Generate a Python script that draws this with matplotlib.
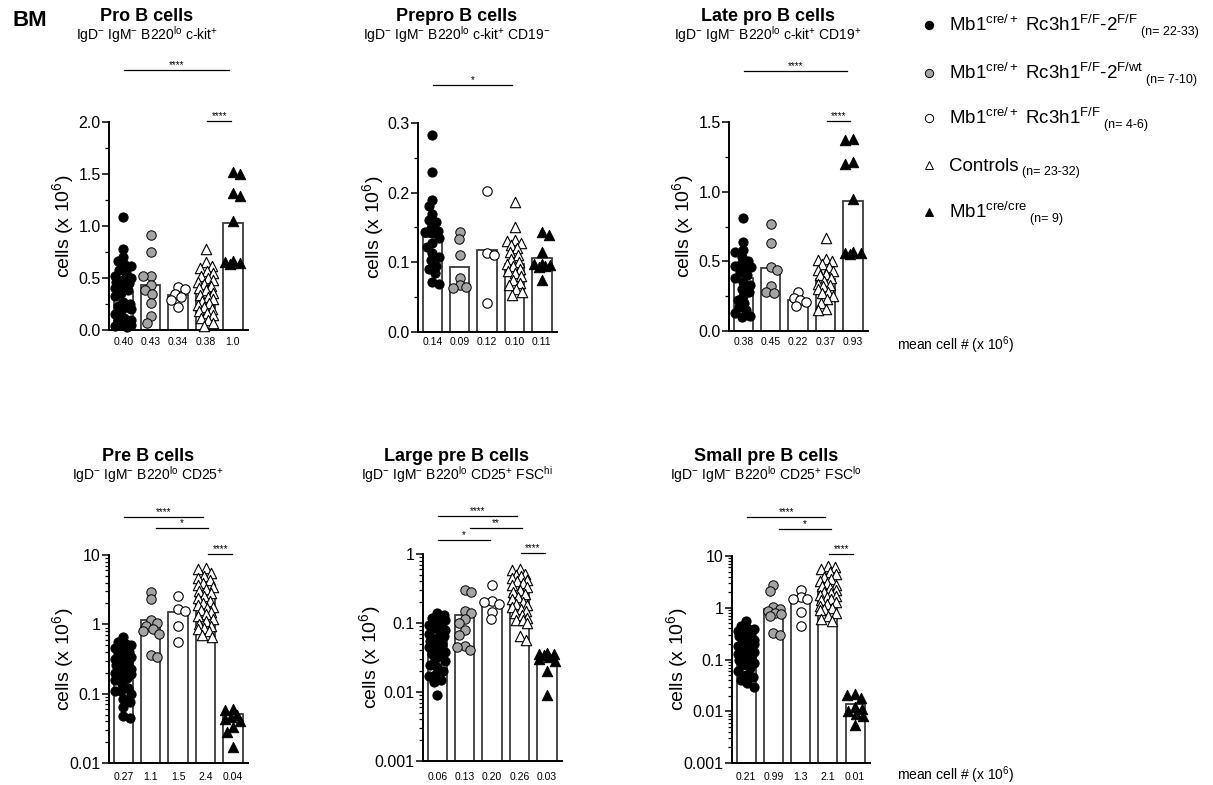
import numpy as np
import matplotlib
matplotlib.use("Agg")
import matplotlib.pyplot as plt
from matplotlib.transforms import blended_transform_factory
from matplotlib.ticker import MultipleLocator, LogLocator, FuncFormatter, NullFormatter, FormatStrFormatter

# ---------------- DATA ----------------
groups = ["Mb1cre/+ Rc3h1F/F-2F/F", "Mb1cre/+ Rc3h1F/F-2F/wt", "Mb1cre/+ Rc3h1F/F", "Controls", "Mb1cre/cre"]

# Pro B cells (x 10^6)
p1_dko = [1.09, 0.78, 0.70, 0.66, 0.63, 0.62, 0.58, 0.55, 0.52, 0.50, 0.48, 0.46, 0.45, 0.42, 0.40, 0.38,
          0.36, 0.33, 0.27, 0.25, 0.23, 0.22, 0.20, 0.18, 0.15, 0.12, 0.10, 0.09, 0.08, 0.06, 0.05, 0.04, 0.03]
p1_het = [0.91, 0.75, 0.52, 0.52, 0.43, 0.38, 0.35, 0.26, 0.13, 0.07]
p1_ff = [0.41, 0.39, 0.35, 0.32, 0.29, 0.22]
p1_ctrl = [0.78, 0.65, 0.62, 0.60, 0.57, 0.55, 0.52, 0.50, 0.48, 0.46, 0.44, 0.42, 0.40, 0.38, 0.36,
           0.34, 0.32, 0.30, 0.28, 0.26, 0.24, 0.22, 0.20, 0.18, 0.16, 0.14, 0.12, 0.10, 0.07, 0.04]
p1_cre = [1.52, 1.50, 1.32, 1.29, 1.05, 0.66, 0.65, 0.64, 0.63]
p1_bar = [0.37, 0.43, 0.34, 0.37, 1.03]
p1_lab = ["0.40", "0.43", "0.34", "0.38", "1.0"]

# Prepro B cells
p2_dko = [0.283, 0.230, 0.190, 0.181, 0.170, 0.161, 0.158, 0.150, 0.145, 0.144, 0.142, 0.135, 0.128,
          0.122, 0.113, 0.108, 0.103, 0.095, 0.090, 0.084, 0.072, 0.069]
p2_het = [0.143, 0.133, 0.110, 0.078, 0.067, 0.064, 0.063]
p2_ff = [0.203, 0.114, 0.110, 0.041]
p2_ctrl = [0.187, 0.151, 0.132, 0.130, 0.128, 0.125, 0.120, 0.115, 0.110, 0.105, 0.100, 0.098, 0.095,
           0.090, 0.088, 0.085, 0.080, 0.075, 0.070, 0.067, 0.062, 0.058, 0.053]
p2_cre = [0.144, 0.139, 0.115, 0.098, 0.097, 0.096, 0.095, 0.094, 0.075]
p2_bar = [0.137, 0.094, 0.118, 0.098, 0.106]
p2_lab = ["0.14", "0.09", "0.12", "0.10", "0.11"]

# Late pro B cells
p3_dko = [0.81, 0.64, 0.58, 0.57, 0.53, 0.50, 0.48, 0.47, 0.46, 0.45, 0.42, 0.40, 0.38, 0.35, 0.33,
          0.30, 0.28, 0.25, 0.22, 0.20, 0.17, 0.15, 0.13, 0.11, 0.10]
p3_het = [0.77, 0.63, 0.46, 0.44, 0.32, 0.28, 0.27]
p3_ff = [0.28, 0.24, 0.22, 0.21, 0.18]
p3_ctrl = [0.67, 0.52, 0.51, 0.50, 0.48, 0.46, 0.44, 0.43, 0.41, 0.40, 0.38, 0.36, 0.34, 0.33, 0.32,
           0.30, 0.28, 0.27, 0.25, 0.23, 0.20, 0.16, 0.15]
p3_cre = [1.38, 1.37, 1.21, 1.20, 0.95, 0.57, 0.56, 0.56, 0.55]
p3_bar = [0.38, 0.455, 0.22, 0.37, 0.93]
p3_lab = ["0.38", "0.45", "0.22", "0.37", "0.93"]

# Pre B cells
p4_dko = [0.65, 0.55, 0.52, 0.50, 0.45, 0.42, 0.40, 0.38, 0.36, 0.34, 0.32, 0.30, 0.28, 0.26, 0.25,
          0.23, 0.22, 0.21, 0.20, 0.19, 0.18, 0.17, 0.16, 0.14, 0.12, 0.11, 0.11, 0.10, 0.085, 0.075,
          0.065, 0.048, 0.045]
p4_het = [2.96, 2.30, 1.15, 1.05, 0.95, 0.85, 0.80, 0.72, 0.36, 0.34]
p4_ff = [2.55, 1.65, 1.55, 0.95, 0.55]
p4_ctrl = [6.4, 6.2, 5.5, 5.0, 4.6, 4.3, 4.0, 3.7, 3.5, 3.2, 3.0, 2.8, 2.6, 2.4, 2.2, 2.0, 1.9, 1.8,
           1.7, 1.6, 1.5, 1.4, 1.3, 1.2, 1.1, 1.0, 0.95, 0.9, 0.85, 0.8, 0.7, 0.65]
p4_cre = [0.060, 0.058, 0.050, 0.046, 0.043, 0.040, 0.033, 0.028, 0.017]
p4_bar = [0.265, 1.13, 1.52, 2.43, 0.041]
p4_lab = ["0.27", "1.1", "1.5", "2.4", "0.04"]

# Large pre B cells
p5_dko = [0.14, 0.13, 0.12, 0.12, 0.11, 0.10, 0.095, 0.09, 0.085, 0.08, 0.075, 0.07, 0.065, 0.06,
          0.055, 0.05, 0.05, 0.045, 0.04, 0.038, 0.035, 0.033, 0.03, 0.028, 0.025, 0.023, 0.02, 0.018,
          0.017, 0.015, 0.014, 0.009]
p5_het = [0.30, 0.28, 0.15, 0.14, 0.115, 0.10, 0.08, 0.068, 0.047, 0.045, 0.040]
p5_ff = [0.35, 0.21, 0.20, 0.19, 0.145, 0.115]
p5_ctrl = [0.60, 0.58, 0.52, 0.50, 0.48, 0.45, 0.42, 0.40, 0.38, 0.35, 0.33, 0.30, 0.28, 0.26, 0.24,
           0.22, 0.20, 0.19, 0.18, 0.17, 0.16, 0.15, 0.14, 0.13, 0.12, 0.11, 0.11, 0.10, 0.065, 0.057]
p5_cre = [0.037, 0.036, 0.035, 0.034, 0.032, 0.030, 0.028, 0.020, 0.009]
p5_bar = [0.060, 0.130, 0.200, 0.263, 0.028]
p5_lab = ["0.06", "0.13", "0.20", "0.26", "0.03"]

# Small pre B cells
p6_dko = [0.55, 0.45, 0.40, 0.38, 0.35, 0.32, 0.30, 0.28, 0.26, 0.24, 0.22, 0.21, 0.20, 0.19, 0.18,
          0.17, 0.16, 0.15, 0.14, 0.13, 0.12, 0.11, 0.10, 0.09, 0.085, 0.08, 0.07, 0.06, 0.05, 0.045,
          0.04, 0.035, 0.03]
p6_het = [2.8, 2.1, 1.05, 0.95, 0.85, 0.80, 0.75, 0.70, 0.33, 0.30]
p6_ff = [2.2, 1.6, 1.5, 1.45, 0.82, 0.44]
p6_ctrl = [6.5, 6.0, 5.5, 5.0, 4.5, 4.0, 3.6, 3.3, 3.0, 2.8, 2.6, 2.4, 2.2, 2.0, 1.9, 1.8, 1.7, 1.6,
           1.5, 1.4, 1.3, 1.2, 1.1, 1.0, 0.95, 0.9, 0.8, 0.7, 0.6, 0.55]
p6_cre = [0.022, 0.021, 0.018, 0.012, 0.011, 0.010, 0.009, 0.008, 0.0055]
p6_bar = [0.205, 0.95, 1.35, 2.2, 0.0128]
p6_lab = ["0.21", "0.99", "1.3", "2.1", "0.01"]

titles = ["Pro B cells", "Prepro B cells", "Late pro B cells",
          "Pre B cells", "Large pre B cells", "Small pre B cells"]
subtitles = [r"IgD$^{-}$ IgM$^{-}$ B220$^{\mathrm{lo}}$ c-kit$^{+}$",
             r"IgD$^{-}$ IgM$^{-}$ B220$^{\mathrm{lo}}$ c-kit$^{+}$ CD19$^{-}$",
             r"IgD$^{-}$ IgM$^{-}$ B220$^{\mathrm{lo}}$ c-kit$^{+}$ CD19$^{+}$",
             r"IgD$^{-}$ IgM$^{-}$ B220$^{\mathrm{lo}}$ CD25$^{+}$",
             r"IgD$^{-}$ IgM$^{-}$ B220$^{\mathrm{lo}}$ CD25$^{+}$ FSC$^{\mathrm{hi}}$",
             r"IgD$^{-}$ IgM$^{-}$ B220$^{\mathrm{lo}}$ CD25$^{+}$ FSC$^{\mathrm{lo}}$"]

legend_main = [r"Mb1$^{\mathrm{cre/+}}$ Rc3h1$^{\mathrm{F/F}}$-2$^{\mathrm{F/F}}$",
               r"Mb1$^{\mathrm{cre/+}}$ Rc3h1$^{\mathrm{F/F}}$-2$^{\mathrm{F/wt}}$",
               r"Mb1$^{\mathrm{cre/+}}$ Rc3h1$^{\mathrm{F/F}}$",
               "Controls",
               r"Mb1$^{\mathrm{cre/cre}}$"]
legend_n = ["(n= 22-33)", "(n= 7-10)", "(n= 4-6)", "(n= 23-32)", "(n= 9)"]

# ---------------- STYLE / LAYOUT ----------------
plt.rcParams["font.family"] = ["Liberation Sans", "DejaVu Sans"]
plt.rcParams["mathtext.fontset"] = "custom"
plt.rcParams["mathtext.rm"] = "Liberation Sans"
plt.rcParams["mathtext.it"] = "Liberation Sans:italic"
plt.rcParams["mathtext.bf"] = "Liberation Sans:bold"

W, H = 1213, 785
fig = plt.figure(figsize=(W / 100, H / 100), dpi=100)

def rect(l, r, t, b):
    return [l / W, 1 - b / H, (r - l) / W, (b - t) / H]

def fxy(x, y):
    return x / W, 1 - y / H

styles = [dict(marker="o", facecolor="black", edgecolor="black", s=44, linewidths=0.7),
          dict(marker="o", facecolor="#a4a4a4", edgecolor="black", s=46, linewidths=0.7),
          dict(marker="o", facecolor="white", edgecolor="black", s=46, linewidths=0.8),
          dict(marker="^", facecolor="white", edgecolor="black", s=56, linewidths=0.8),
          dict(marker="^", facecolor="black", edgecolor="black", s=56, linewidths=0.7)]

panels = [
    dict(box=(109, 248, 122, 330), log=False, ylim=(0, 2.0), major=0.5, minor=0.25,
         data=[p1_dko, p1_het, p1_ff, p1_ctrl, p1_cre], bar=p1_bar, lab=p1_lab,
         sig=[(0.04, 3.87, 70, "****"), (3.07, 3.94, 121, "****")],
         title_x=147, ty=(21, 40), ylab_x=63, lab_y=342),
    dict(box=(418, 557, 123, 332), log=False, ylim=(0, 0.3), major=0.1, minor=0.05,
         data=[p2_dko, p2_het, p2_ff, p2_ctrl, p2_cre], bar=p2_bar, lab=p2_lab,
         sig=[(0.04, 2.9, 85, "*")],
         title_x=457, ty=(21, 40), ylab_x=373, lab_y=342),
    dict(box=(729, 868, 122, 331), log=False, ylim=(0, 1.5), major=0.5, minor=0.25,
         data=[p3_dko, p3_het, p3_ff, p3_ctrl, p3_cre], bar=p3_bar, lab=p3_lab,
         sig=[(0.04, 3.8, 71, "****"), (3.05, 3.9, 121, "****")],
         title_x=768, ty=(21, 40), ylab_x=683, lab_y=342),
    dict(box=(109, 248, 555, 763), log=True, ylim=(0.01, 10),
         data=[p4_dko, p4_het, p4_ff, p4_ctrl, p4_cre], bar=p4_bar, lab=p4_lab,
         sig=[(0.04, 2.92, 517, "****"), (1.2, 3.1, 528, "*"), (3.1, 3.98, 554, "****")],
         title_x=148, ty=(461, 480), ylab_x=63, lab_y=777),
    dict(box=(423, 562, 554, 761), log=True, ylim=(0.001, 1),
         data=[p5_dko, p5_het, p5_ff, p5_ctrl, p5_cre], bar=p5_bar, lab=p5_lab,
         sig=[(0.04, 2.9, 516, "****"), (1.2, 3.1, 528, "**"), (0.04, 1.93, 540, "*"),
              (3.05, 3.93, 553, "****")],
         title_x=457, ty=(461, 480), ylab_x=370, lab_y=777),
    dict(box=(732, 870, 556, 763), log=True, ylim=(0.001, 10),
         data=[p6_dko, p6_het, p6_ff, p6_ctrl, p6_cre], bar=p6_bar, lab=p6_lab,
         sig=[(0.04, 2.9, 517, "****"), (1.2, 3.13, 529, "*"), (3.05, 3.93, 554, "****")],
         title_x=766, ty=(461, 480), ylab_x=677, lab_y=777),
]


def swarm_offsets(ax, xc, vals, d=7.0, hw=0.29):
    trans = ax.transData
    cands = np.linspace(-hw, hw, 15)
    cands = cands[np.argsort(np.abs(cands), kind="stable")]
    placed, offs = [], []
    for v in vals:
        best, bestd, bestc = None, -1.0, 0.0
        for c in cands:
            p = trans.transform((xc + c, v))
            md = min((np.hypot(p[0] - q[0], p[1] - q[1]) for q in placed), default=np.inf)
            if md >= d:
                best = c
                break
            if md > bestd:
                bestd, bestc = md, c
        if best is None:
            best = bestc
        placed.append(trans.transform((xc + best, v)))
        offs.append(best)
    return np.array(offs)


for k, P in enumerate(panels):
    l, r, t, b = P["box"]
    ax = fig.add_axes(rect(l, r, t, b))
    ax.set_facecolor("none")
    if P["log"]:
        ax.set_yscale("log")
        ax.yaxis.set_major_locator(LogLocator(base=10, numticks=10))
        ax.yaxis.set_minor_locator(LogLocator(base=10, subs=np.arange(2, 10), numticks=10))
        ax.yaxis.set_major_formatter(FuncFormatter(lambda v, _: f"{v:g}"))
        ax.yaxis.set_minor_formatter(NullFormatter())
    else:
        ax.yaxis.set_major_locator(MultipleLocator(P["major"]))
        ax.yaxis.set_minor_locator(MultipleLocator(P["minor"]))
        ax.yaxis.set_major_formatter(FormatStrFormatter("%.1f"))
    ax.set_ylim(*P["ylim"])
    ax.set_xlim(-0.52, 4.55)
    ax.set_xticks([])
    for s in ["top", "right"]:
        ax.spines[s].set_visible(False)
    for s in ["left", "bottom"]:
        ax.spines[s].set_linewidth(1.4)
    ax.tick_params(axis="y", which="major", length=5, width=1.1, labelsize=11.5, pad=1)
    ax.tick_params(axis="y", which="minor", length=3, width=0.9)

    xs = np.arange(5)
    ax.bar(xs, P["bar"], width=0.70, color="white", edgecolor="#3c3c3c", linewidth=1.3,
           zorder=1, bottom=P["ylim"][0] if P["log"] else 0)
    for gi, vals in enumerate(P["data"]):
        offs = swarm_offsets(ax, gi, vals)
        ax.scatter(gi + offs, vals, zorder=3, clip_on=False, **styles[gi])

    axh = b - t
    tr = blended_transform_factory(ax.transData, ax.transAxes)
    for gi, s in enumerate(P["lab"]):
        ax.text(gi, -(P["lab_y"] - b) / axh, s, transform=tr, ha="center", va="center",
                fontsize=7.5)
    for x0, x1, py, star in P["sig"]:
        yf = (b - py) / axh
        ax.plot([x0, x1], [yf, yf], transform=tr, color="black", lw=0.9, clip_on=False)
        ax.text((x0 + x1) / 2, yf + 1.5 / axh, star, transform=tr, ha="center",
                va="baseline", fontsize=7)

    fig.text(*fxy(P["title_x"], P["ty"][0]), titles[k], ha="center", va="baseline",
             fontsize=13, fontweight="bold")
    fig.text(*fxy(P["title_x"], P["ty"][1]), subtitles[k], ha="center", va="baseline",
             fontsize=10)
    fig.text(*fxy(P["ylab_x"], (t + b) / 2), r"cells (x 10$^{6}$)", rotation=90,
             ha="center", va="center", fontsize=14)

fig.text(*fxy(12, 20), "BM", ha="left", va="center", fontsize=16, fontweight="bold")

# legend
rows_y = [25, 73, 118, 165, 212]
renderer = fig.canvas.get_renderer()
for gi, yy in enumerate(rows_y):
    st = styles[gi]
    mx, my = fxy(929, yy)
    fig.lines.append(plt.Line2D([mx], [my], transform=fig.transFigure, marker=st["marker"],
                                markerfacecolor=st["facecolor"], markeredgecolor="black",
                                markeredgewidth=0.7, markersize=6, linestyle="none"))
    tx = fig.text(*fxy(949, yy + 6), legend_main[gi], ha="left", va="baseline", fontsize=13.5)
    bb = tx.get_window_extent(renderer=renderer)
    fig.text(bb.x1 / W + 3 / W, 1 - (yy + 10) / H, legend_n[gi], ha="left", va="baseline",
             fontsize=9)

for yy in [345, 775]:
    fig.text(*fxy(897, yy), r"mean cell # (x 10$^{6}$)", ha="left", va="center", fontsize=10)

fig.savefig("out.png", dpi=100)
